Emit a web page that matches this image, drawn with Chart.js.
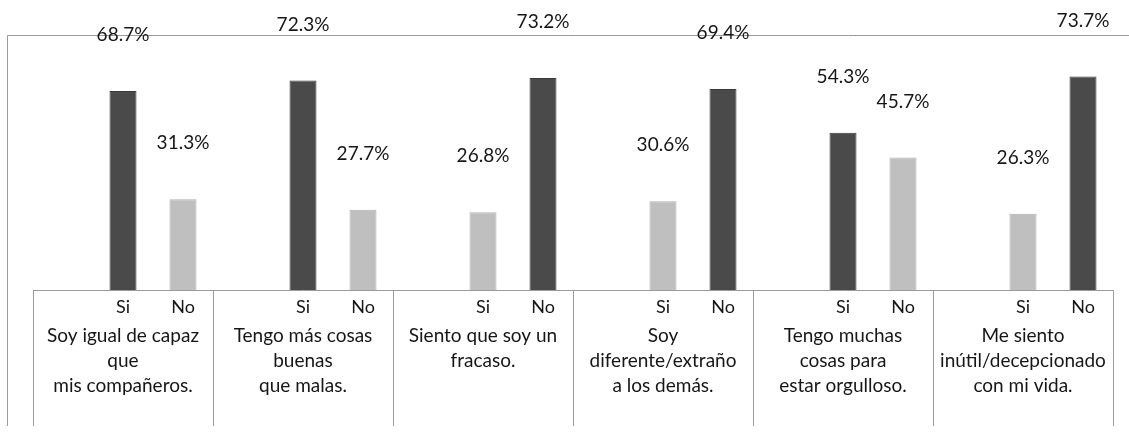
<!DOCTYPE html>
<html>
<head>
<meta charset="utf-8">
<script src="https://cdn.jsdelivr.net/npm/chart.js@4"></script>
<style>
  html, body { margin: 0; padding: 0; background: #ffffff; }
  #wrap { width: 1129px; height: 432px; position: relative; }
</style>
</head>
<body>
<div id="wrap"><canvas id="c" width="1129" height="432"></canvas></div>
<script>
// ---- data ----
const groupLabels = [
  ["Soy igual de capaz", "que", "mis compañeros."],
  ["Tengo más cosas", "buenas", "que malas."],
  ["Siento que soy un", "fracaso."],
  ["Soy", "diferente/extraño", "a los demás."],
  ["Tengo muchas", "cosas para", "estar orgulloso."],
  ["Me siento", "inútil/decepcionado", "con mi vida."]
];
const answerLabels = ["Si", "No"];
const siValues = [68.7, 72.3, 26.8, 30.6, 54.3, 26.3];
const noValues = [31.3, 27.7, 73.2, 69.4, 45.7, 73.7];
const spacerValues = [null, null, null, null, null, null];

// ---- styles ----
const DARK = '#4a4a4a';
const DARK_EDGE = '#3a3a3a';
const LIGHT = '#bfbfbf';
const LIGHT_EDGE = '#b0b0b0';
const LINE = '#9a9a9a';
const TEXT = '#161616';
const FONT = 'Lato, "Open Sans", sans-serif';

function isDark(which, i) {
  return which === 0 ? siValues[i] > noValues[i] : noValues[i] > siValues[i];
}

const overlay = {
  id: 'overlay',
  beforeDraw(chart) {
    const { ctx, chartArea } = chart;
    ctx.save();
    ctx.strokeStyle = LINE;
    ctx.lineWidth = 1;
    ctx.beginPath();
    const fx = chartArea.left - 26 + 0.5;
    const fy = chartArea.top + 0.5;
    ctx.moveTo(fx, chart.height - 6);
    ctx.lineTo(fx, fy);
    ctx.lineTo(chart.width, fy);
    ctx.stroke();
    ctx.restore();
  },
  afterDatasetsDraw(chart) {
    const { ctx, chartArea } = chart;
    ctx.save();
    ctx.fillStyle = TEXT;
    ctx.textAlign = 'center';
    ctx.textBaseline = 'middle';
    [1, 2].forEach((dsIndex, k) => {
      const meta = chart.getDatasetMeta(dsIndex);
      const vals = chart.data.datasets[dsIndex].data;
      meta.data.forEach((bar, i) => {
        ctx.font = '19px ' + FONT;
        ctx.fillText(vals[i].toFixed(1) + '%', bar.x, bar.y - 56);
        ctx.font = '18px ' + FONT;
        ctx.fillText(answerLabels[k], bar.x, chartArea.bottom + 17);
      });
    });
    ctx.restore();
  }
};

new Chart(document.getElementById('c'), {
  type: 'bar',
  data: {
    labels: groupLabels,
    datasets: [
      { label: '', data: spacerValues },
      {
        label: answerLabels[0],
        data: siValues,
        backgroundColor: c => isDark(0, c.dataIndex) ? DARK : LIGHT,
        borderColor: c => isDark(0, c.dataIndex) ? DARK_EDGE : LIGHT_EDGE,
        borderWidth: 1
      },
      {
        label: answerLabels[1],
        data: noValues,
        backgroundColor: c => isDark(1, c.dataIndex) ? DARK : LIGHT,
        borderColor: c => isDark(1, c.dataIndex) ? DARK_EDGE : LIGHT_EDGE,
        borderWidth: 1
      }
    ]
  },
  options: {
    responsive: false,
    animation: false,
    devicePixelRatio: 1,
    categoryPercentage: 1,
    barPercentage: 0.45,
    layout: { padding: { left: 33, right: 16, top: 35, bottom: 0 } },
    plugins: { legend: { display: false }, tooltip: { enabled: false } },
    scales: {
      y: { display: false, min: 0, max: 88 },
      x: {
        afterFit: s => { s.height = 142; },
        border: { display: true, color: LINE, width: 1 },
        grid: {
          offset: true,
          drawOnChartArea: false,
          drawTicks: true,
          tickLength: 136,
          color: LINE,
          lineWidth: 1
        },
        ticks: {
          padding: -103,
          color: TEXT,
          maxRotation: 0,
          autoSkip: false,
          font: { family: FONT, size: 19, lineHeight: 1.3158 }
        }
      }
    }
  },
  plugins: [overlay]
});
</script>
</body>
</html>
